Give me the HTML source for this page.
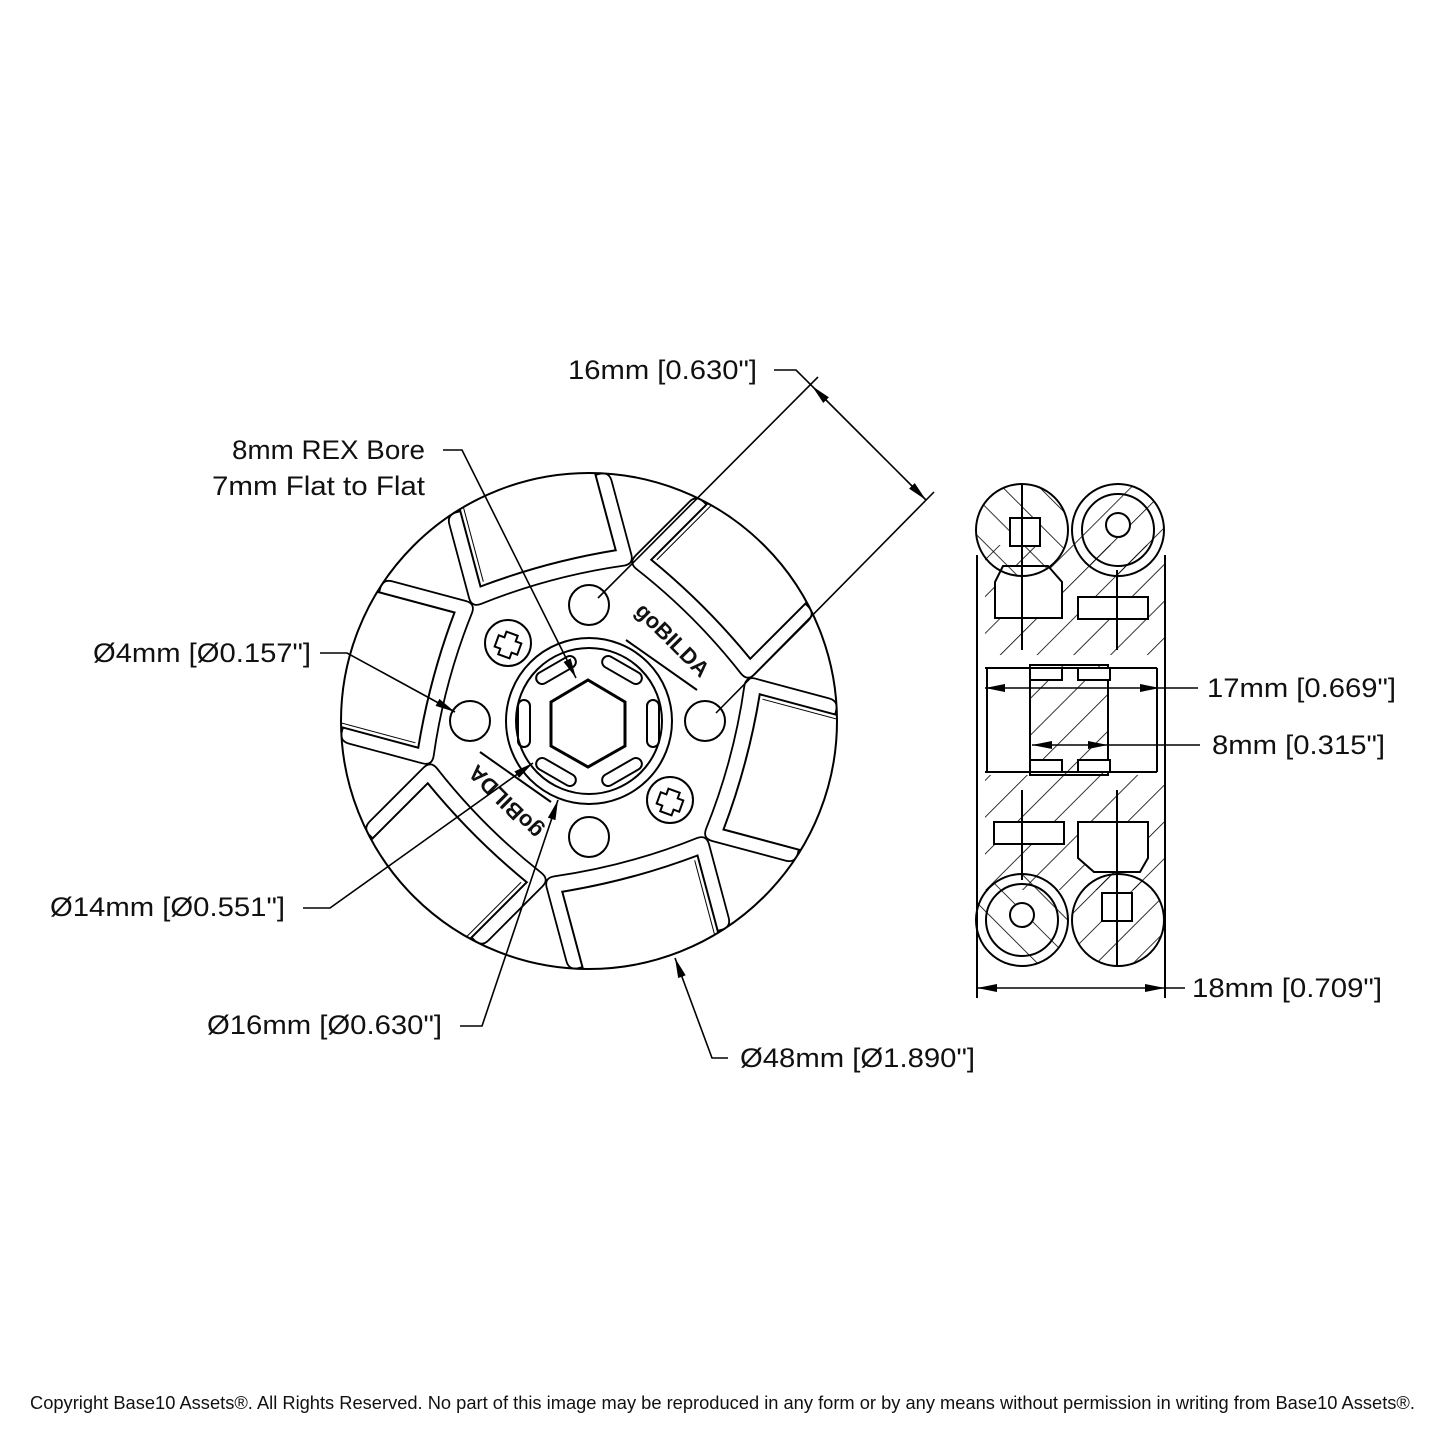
<!DOCTYPE html>
<html><head><meta charset="utf-8"><style>
html,body{margin:0;padding:0;background:#fff}
svg{display:block}
text{font-family:"Liberation Sans",sans-serif;fill:#111}
</style></head><body>
<svg width="1445" height="1445" viewBox="0 0 1445 1445" xmlns="http://www.w3.org/2000/svg">
<defs>
<marker id="ar" viewBox="0 0 20 8" refX="20" refY="4" markerWidth="20" markerHeight="8" markerUnits="userSpaceOnUse" orient="auto"><path d="M0,0 L20,4 L0,8 z" fill="#000"/></marker>
<pattern id="hatch" patternUnits="userSpaceOnUse" width="26" height="26" patternTransform="rotate(45)"><line x1="0" y1="0" x2="0" y2="26" stroke="#000" stroke-width="1.6"/></pattern>
<pattern id="hatch2" patternUnits="userSpaceOnUse" width="26" height="26" patternTransform="rotate(-45)"><line x1="0" y1="0" x2="0" y2="26" stroke="#000" stroke-width="1.6"/></pattern>
<clipPath id="wc"><circle cx="589" cy="721" r="248"/></clipPath>
<g id="pocket" fill="none" stroke="#000" stroke-width="1.8">
  <path d="M150,-84 L226,-84 Q236,-84 236,-74 L236,74 Q236,84 226,84 L150,84 Q140,84 141,74 Q150,0 141,-74 Q140,-84 150,-84 Z"/>
</g>
<g id="face" fill="#fff" stroke="#000" stroke-width="2">
  <path d="M158,-70 Q165,0 158,70 L262,70 L262,-70 Z"/>
  <line x1="162" y1="-66" x2="245" y2="-66" stroke-width="1"/>
</g>
</defs>

<!-- front wheel -->
<g clip-path="url(#wc)">
<use href="#pocket" transform="translate(589,721) rotate(-105)"/>
<use href="#pocket" transform="translate(589,721) rotate(-45)"/>
<use href="#pocket" transform="translate(589,721) rotate(15)"/>
<use href="#pocket" transform="translate(589,721) rotate(75)"/>
<use href="#pocket" transform="translate(589,721) rotate(135)"/>
<use href="#pocket" transform="translate(589,721) rotate(195)"/>
<use href="#face" transform="translate(589,721) rotate(-105)"/>
<use href="#face" transform="translate(589,721) rotate(-45)"/>
<use href="#face" transform="translate(589,721) rotate(15)"/>
<use href="#face" transform="translate(589,721) rotate(75)"/>
<use href="#face" transform="translate(589,721) rotate(135)"/>
<use href="#face" transform="translate(589,721) rotate(195)"/>
</g>
<g fill="none" stroke="#000" stroke-width="2">
<circle cx="589" cy="721" r="248"/>
<circle cx="589" cy="721" r="83"/>
<circle cx="589" cy="721" r="73"/>
<path d="M588,680 L625,702 L625,746 L588,767 L551,746 L551,702 Z" stroke-width="3"/>
<rect x="518" y="700" width="12" height="47" rx="6"/>
<rect x="647" y="700" width="12" height="47" rx="6"/>
<rect x="-22" y="-6" width="44" height="12" rx="6" transform="translate(556,670) rotate(-30)"/>
<rect x="-22" y="-6" width="44" height="12" rx="6" transform="translate(622,670) rotate(30)"/>
<rect x="-22" y="-6" width="44" height="12" rx="6" transform="translate(556,772) rotate(30)"/>
<rect x="-22" y="-6" width="44" height="12" rx="6" transform="translate(622,772) rotate(-30)"/>
<circle cx="589" cy="605" r="20"/>
<circle cx="470" cy="721" r="20"/>
<circle cx="705" cy="721" r="20"/>
<circle cx="589" cy="837" r="20"/>
<circle cx="508" cy="643" r="23"/>
<circle cx="670" cy="800" r="23"/>
<path d="M502,633 h12 v6 h6 v12 h-6 v6 h-12 v-6 h-6 v-12 h6 z" transform="rotate(20 508 645)"/>
<path d="M664,790 h12 v6 h6 v12 h-6 v6 h-12 v-6 h-6 v-12 h6 z" transform="rotate(20 670 802)"/>
</g>
<text x="0" y="0" font-size="22" font-weight="bold" transform="translate(634,612) rotate(45)">goBILDA</text>
<line x1="626" y1="640" x2="697" y2="690" stroke="#000" stroke-width="2"/>
<text x="0" y="0" font-size="22" font-weight="bold" transform="translate(544,830) rotate(-135)">goBILDA</text>
<line x1="480" y1="752" x2="551" y2="802" stroke="#000" stroke-width="2"/>

<!-- leaders -->
<g fill="none" stroke="#000" stroke-width="1.6">
<polyline points="443,450 462,450 576,678" marker-end="url(#ar)"/>
<polyline points="320,653 347,653 455,712" marker-end="url(#ar)"/>
<polyline points="303,908 330,908 533,763" marker-end="url(#ar)"/>
<polyline points="460,1026 482,1026 558,800" marker-end="url(#ar)"/>
<polyline points="728,1058 712,1058 675,958" marker-end="url(#ar)"/>
<line x1="598" y1="598" x2="818" y2="377"/>
<line x1="716" y1="713" x2="934" y2="492"/>
<polyline points="774,370 796,370 812,386"/>
<line x1="866" y1="440" x2="812" y2="386" marker-end="url(#ar)"/>
<line x1="866" y1="440" x2="926" y2="500" marker-end="url(#ar)"/>
</g>

<!-- side view -->
<g fill="none" stroke="#000" stroke-width="2">
<rect x="985" y="545" width="180" height="110" fill="url(#hatch)" stroke="none"/>
<rect x="985" y="775" width="180" height="115" fill="url(#hatch)" stroke="none"/>
<rect x="1030" y="665" width="78" height="110" fill="url(#hatch)"/>
<line x1="977" y1="555" x2="977" y2="900"/>
<line x1="1165" y1="555" x2="1165" y2="900"/>
<line x1="987" y1="668" x2="987" y2="772"/>
<line x1="1157" y1="668" x2="1157" y2="772"/>
<line x1="985" y1="668" x2="1157" y2="668"/>
<line x1="985" y1="772" x2="1157" y2="772"/>
<rect x="1030" y="668" width="32" height="12" fill="#fff"/>
<rect x="1078" y="668" width="32" height="12" fill="#fff"/>
<rect x="1030" y="760" width="32" height="12" fill="#fff"/>
<rect x="1078" y="760" width="32" height="12" fill="#fff"/>
<path d="M995,618 L995,582 L1003,566 L1048,566 L1062,582 L1062,618 Z" fill="#fff"/>
<rect x="1078" y="597" width="70" height="22" fill="#fff"/>
<rect x="994" y="822" width="70" height="22" fill="#fff"/>
<path d="M1078,822 L1148,822 L1148,858 L1140,872 L1094,872 L1078,858 Z" fill="#fff"/>
<circle cx="1022" cy="530" r="46" fill="url(#hatch2)"/>
<circle cx="1118" cy="530" r="46" fill="url(#hatch)"/>
<circle cx="1118" cy="530" r="36"/>
<circle cx="1118" cy="525" r="12" fill="#fff"/>
<rect x="1010" y="518" width="30" height="28" fill="#fff"/>
<circle cx="1022" cy="920" r="46" fill="url(#hatch2)"/>
<circle cx="1022" cy="920" r="36"/>
<circle cx="1022" cy="915" r="12" fill="#fff"/>
<circle cx="1118" cy="920" r="46" fill="url(#hatch)"/>
<rect x="1102" y="893" width="30" height="28" fill="#fff"/>
<line x1="1022" y1="485" x2="1022" y2="650"/>
<line x1="1117" y1="570" x2="1117" y2="650"/>
<line x1="1022" y1="790" x2="1022" y2="880"/>
<line x1="1117" y1="790" x2="1117" y2="965"/>
<line x1="977" y1="880" x2="977" y2="998"/>
<line x1="1165" y1="880" x2="1165" y2="998"/>
</g>
<g fill="none" stroke="#000" stroke-width="1.6">
<line x1="1080" y1="688" x2="985" y2="688" marker-end="url(#ar)"/>
<line x1="1080" y1="688" x2="1160" y2="688" marker-end="url(#ar)"/>
<line x1="1160" y1="688" x2="1198" y2="688"/>
<line x1="1070" y1="745" x2="1032" y2="745" marker-end="url(#ar)"/>
<line x1="1070" y1="745" x2="1108" y2="745" marker-end="url(#ar)"/>
<line x1="1108" y1="745" x2="1200" y2="745"/>
<line x1="1070" y1="988" x2="977" y2="988" marker-end="url(#ar)"/>
<line x1="1070" y1="988" x2="1165" y2="988" marker-end="url(#ar)"/>
<line x1="1165" y1="988" x2="1185" y2="988"/>
</g>

<!-- labels -->
<g font-size="27">
<text x="568" y="379" textLength="189" lengthAdjust="spacingAndGlyphs">16mm [0.630"]</text>
<text x="232" y="459" textLength="193" lengthAdjust="spacingAndGlyphs">8mm REX Bore</text>
<text x="212" y="495" textLength="213" lengthAdjust="spacingAndGlyphs">7mm Flat to Flat</text>
<text x="93" y="662" textLength="218" lengthAdjust="spacingAndGlyphs">Ø4mm [Ø0.157"]</text>
<text x="50" y="916" textLength="235" lengthAdjust="spacingAndGlyphs">Ø14mm [Ø0.551"]</text>
<text x="207" y="1034" textLength="235" lengthAdjust="spacingAndGlyphs">Ø16mm [Ø0.630"]</text>
<text x="740" y="1067" textLength="235" lengthAdjust="spacingAndGlyphs">Ø48mm [Ø1.890"]</text>
<text x="1207" y="697" textLength="189" lengthAdjust="spacingAndGlyphs">17mm [0.669"]</text>
<text x="1212" y="754" textLength="173" lengthAdjust="spacingAndGlyphs">8mm [0.315"]</text>
<text x="1192" y="997" textLength="190" lengthAdjust="spacingAndGlyphs">18mm [0.709"]</text>
</g>
<text x="30" y="1409" font-size="18" textLength="1385" lengthAdjust="spacingAndGlyphs">Copyright Base10 Assets®.  All Rights Reserved. No part of this image may be reproduced in any form or by any means without permission in writing from Base10 Assets®.</text>
</svg>
</body></html>
